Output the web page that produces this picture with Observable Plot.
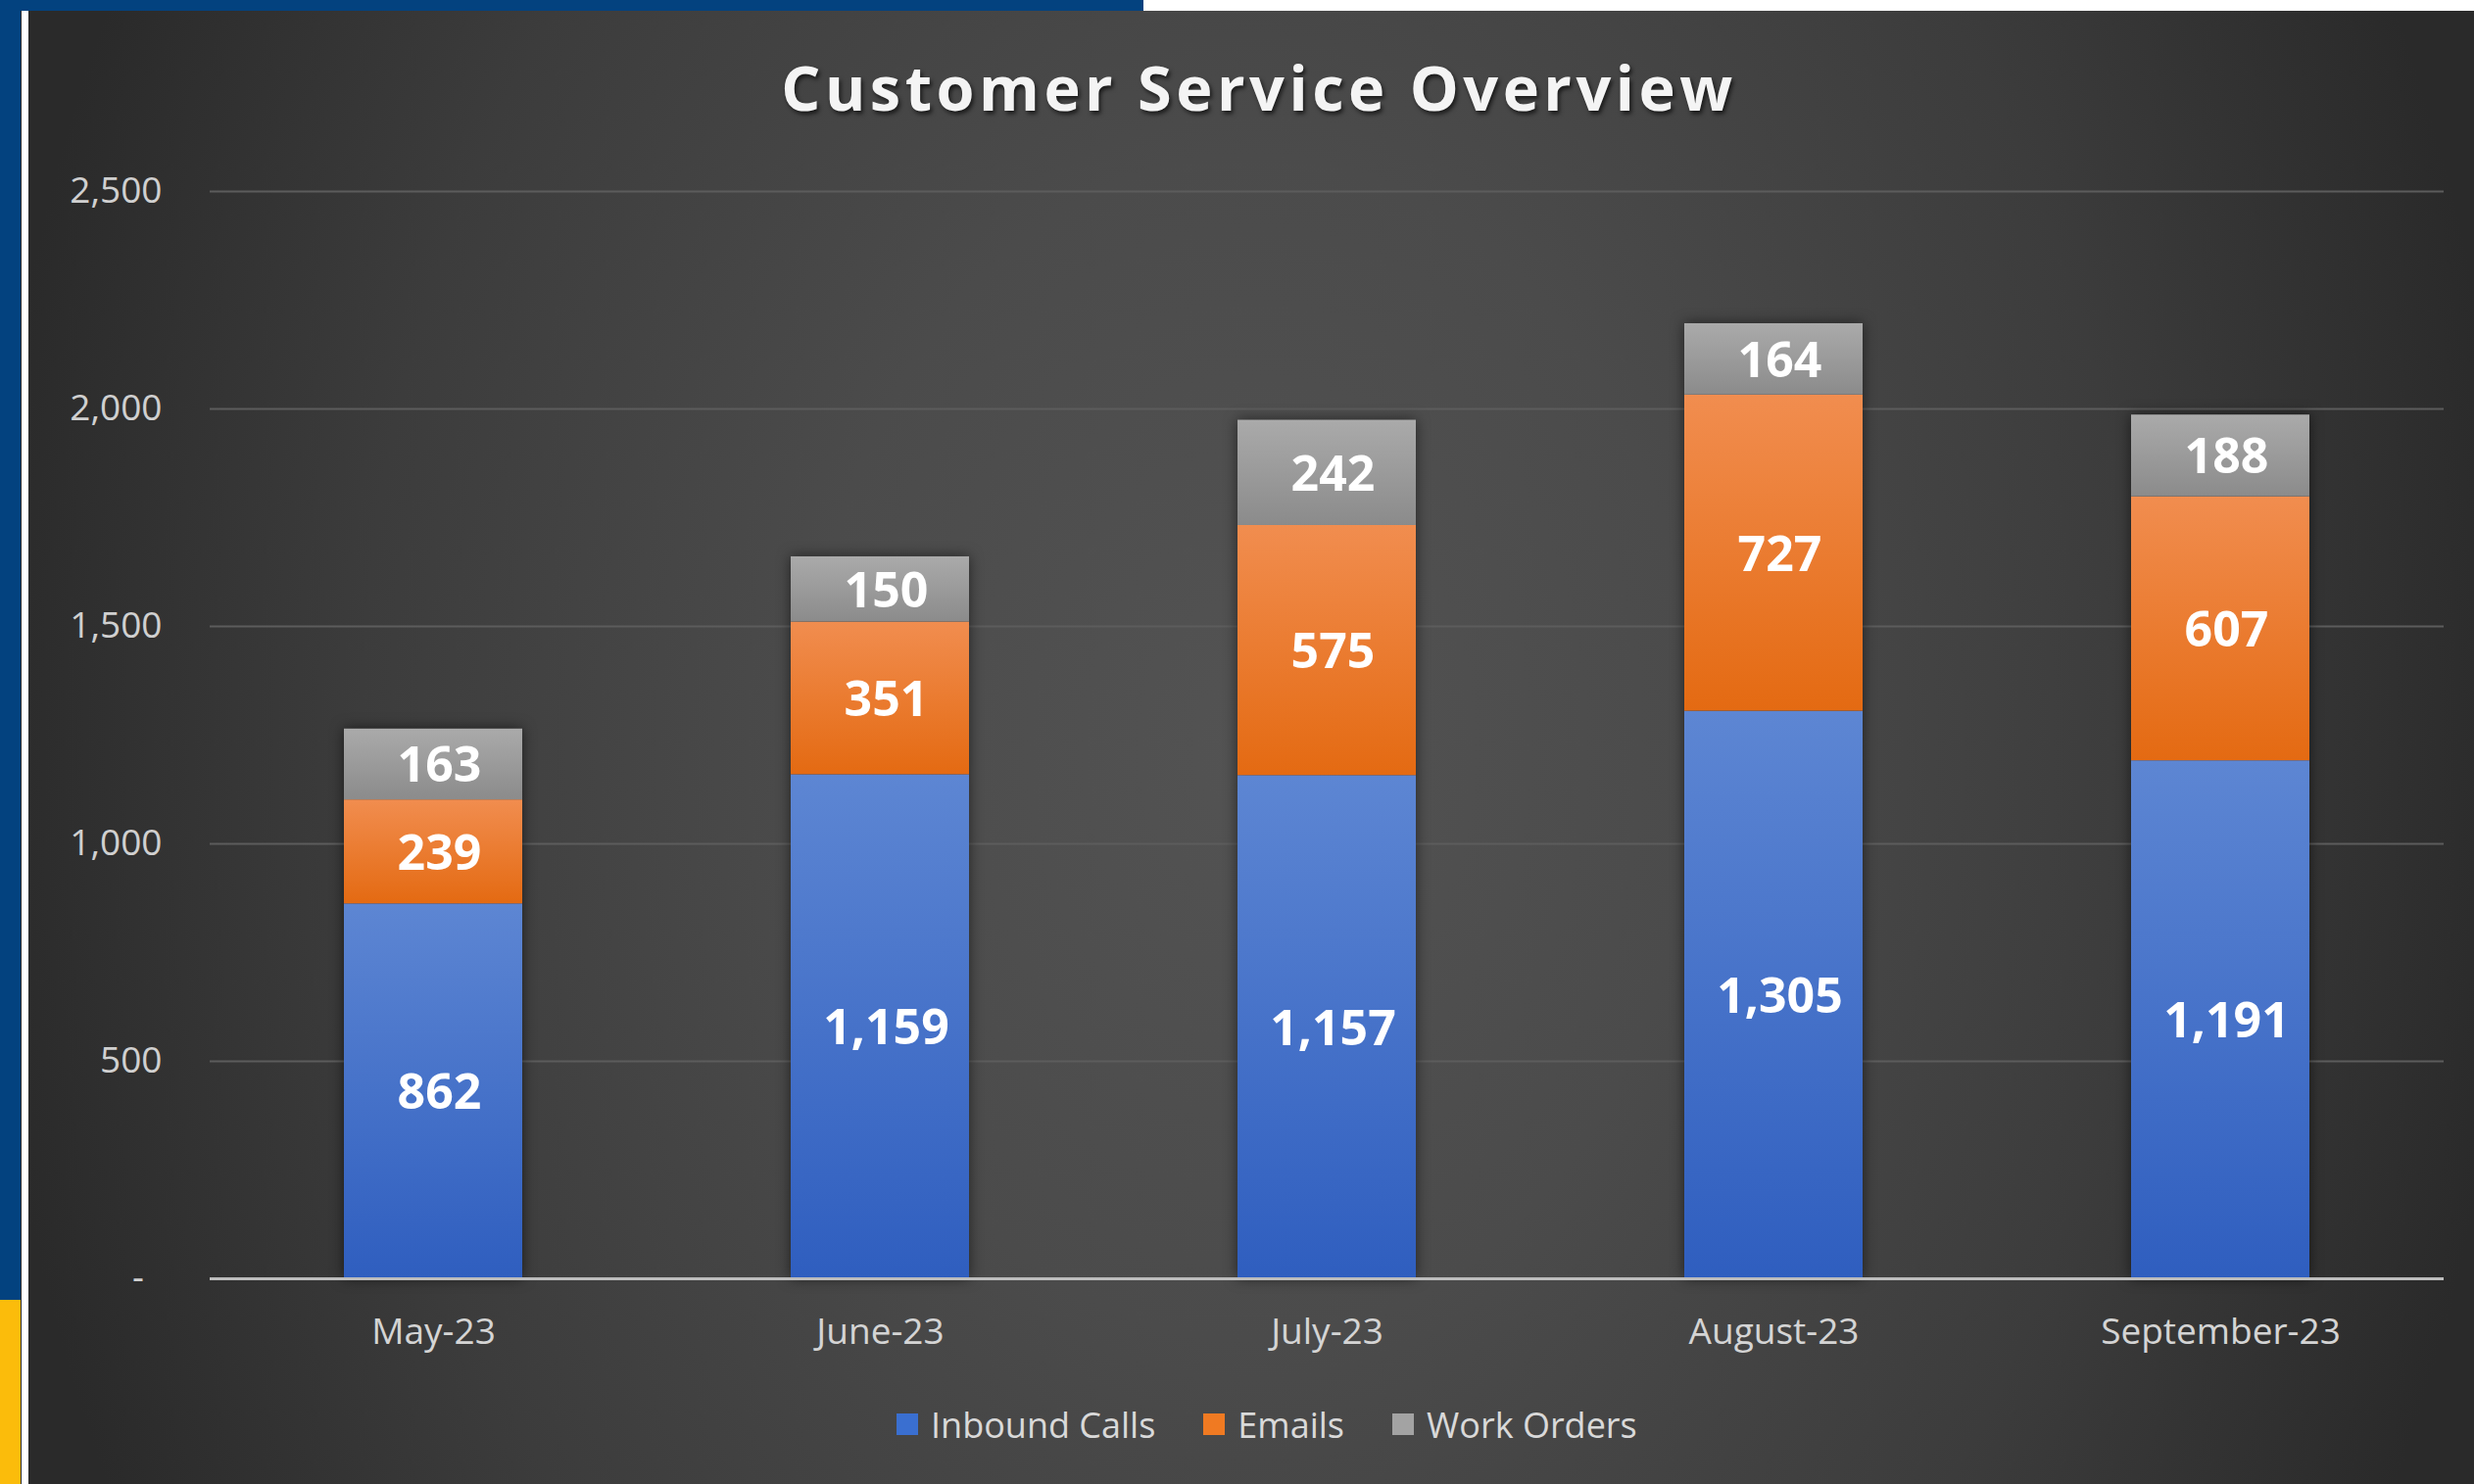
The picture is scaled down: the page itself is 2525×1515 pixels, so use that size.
<!DOCTYPE html>
<html>
<head>
<meta charset="utf-8">
<script src="https://cdn.jsdelivr.net/npm/d3@7"></script>
<script src="https://cdn.jsdelivr.net/npm/@observablehq/plot@0.6"></script>
<style>
  html, body { margin: 0; padding: 0; background: #fff; }
  #page { position: relative; width: 2525px; height: 1515px; overflow: hidden; background: #fff; }
  #topband { position: absolute; left: 0; top: 0; width: 1167px; height: 11px; background: #03427f; }
  #leftblue { position: absolute; left: 0; top: 0; width: 21px; height: 1327px; background: #03427f; }
  #leftyellow { position: absolute; left: 0; top: 1327px; width: 21px; height: 188px; background: #fbbc0b; }
  #divider { position: absolute; left: 21px; top: 11px; width: 1px; height: 1504px; background: #2a2a2a; }
  #whiteline { position: absolute; left: 22px; top: 11px; width: 7px; height: 1504px; background: #ffffff; }
  #panel {
    position: absolute; left: 29px; top: 11px; width: 2496px; height: 1504px; overflow: hidden;
    background: radial-gradient(ellipse 52% 115% at 50% 50%, #535353 0%, #4b4b4b 35%, #3c3c3c 70%, #2a2a2a 100%);
  }
  #title {
    position: absolute; left: 8px; top: 46px; width: 2496px; text-align: center;
    font-family: "Open Sans", sans-serif; font-weight: 700; font-size: 63px; line-height: 63px;
    letter-spacing: 4.5px; color: #f4f4f4; text-shadow: 2px 3px 4px rgba(0,0,0,0.65);
  }
  #chart { position: absolute; left: 0; top: 139px; }
  #legend {
    position: absolute; left: 886px; top: 1418px; height: 50px; display: flex; align-items: center;
    font-family: "Open Sans", sans-serif; font-size: 36px; color: #d9d9d9;
  }
  .item { display: flex; align-items: center; margin-right: 49px; }
  .sw { width: 22px; height: 22px; margin-right: 13px; }
</style>
</head>
<body>
<div id="page">
  <div id="topband"></div>
  <div id="leftblue"></div>
  <div id="leftyellow"></div>
  <div id="divider"></div>
  <div id="whiteline"></div>
  <div id="panel">
    <div id="title">Customer Service Overview</div>
    <div id="chart"></div>
    <div id="legend"></div>
  </div>
</div>
<script>
// ---- data ----
const months = ["May-23", "June-23", "July-23", "August-23", "September-23"];
const seriesNames = ["Inbound Calls", "Emails", "Work Orders"];
const inboundCalls = [862, 1159, 1157, 1305, 1191];
const emails = [239, 351, 575, 727, 607];
const workOrders = [163, 150, 242, 164, 188];
const yTicks = [0, 500, 1000, 1500, 2000, 2500];
const gridTicks = [500, 1000, 1500, 2000, 2500];

// colours
const gradStops = [
  ["gBlue", "#5d86d3", "#2f5ebf"],
  ["gOrange", "#f18d4f", "#e46a12"],
  ["gGrey", "#aaaaaa", "#8b8b8b"]
];
const swatchColors = ["#3a6fd0", "#f07a22", "#a3a3a3"];

const valuesBySeries = [inboundCalls, emails, workOrders];
const long = [];
months.forEach((m, i) => {
  seriesNames.forEach((s, j) => {
    long.push({month: m, series: s, value: valuesBySeries[j][i]});
  });
});

const fmt = d3.format(",");

const chart = Plot.plot({
  width: 2496,
  height: 1250,
  marginTop: 45,
  marginBottom: 95,
  marginLeft: 185,
  marginRight: 31,
  style: {background: "transparent", fontFamily: "'Open Sans', sans-serif", overflow: "visible"},
  x: {domain: months, paddingInner: 0.6, paddingOuter: 0.3, label: null},
  y: {domain: [0, 2500], label: null},
  color: {type: "ordinal", domain: seriesNames, range: gradStops.map(g => `url(#${g[0]})`)},
  marks: [
    Plot.ruleY(gridTicks, {stroke: "#5c5c5c", strokeWidth: 2}),
    Plot.barY(long, {x: "month", y: "value", fill: "series"}),
    Plot.ruleY([0], {stroke: "#bdbdbd", strokeWidth: 3}),
    Plot.text(long, Plot.stackY({
      x: "month", y: "value", z: "series",
      text: d => fmt(d.value),
      fill: "#ffffff", fontSize: 50, fontWeight: "bold", dx: 6, dy: 2
    })),
    Plot.axisX({tickSize: 0, tickPadding: 40, fontSize: 37, color: "#d4d4d4", label: null}),
    Plot.axisY(yTicks, {
      tickSize: 0, tickPadding: 49, fontSize: 37, color: "#d0d0d0", label: null,
      tickFormat: d => d === 0 ? "-\u2002" : fmt(d)
    })
  ]
});

// gradient definitions
const defs = d3.select(chart).insert("defs", ":first-child");
gradStops.forEach(([id, top, bottom]) => {
  const lg = defs.append("linearGradient").attr("id", id)
    .attr("x1", 0).attr("y1", 0).attr("x2", 0).attr("y2", 1);
  lg.append("stop").attr("offset", "0%").attr("stop-color", top);
  lg.append("stop").attr("offset", "100%").attr("stop-color", bottom);
});
d3.select(chart).selectAll("g[aria-label='bar']")
  .style("filter", "drop-shadow(0px 0px 7px rgba(0,0,0,0.55))");

document.getElementById("chart").appendChild(chart);

// legend
const legend = d3.select("#legend");
seriesNames.forEach((s, i) => {
  const it = legend.append("div").attr("class", "item");
  it.append("div").attr("class", "sw").style("background", swatchColors[i]);
  it.append("span").text(s);
});
</script>
</body>
</html>
